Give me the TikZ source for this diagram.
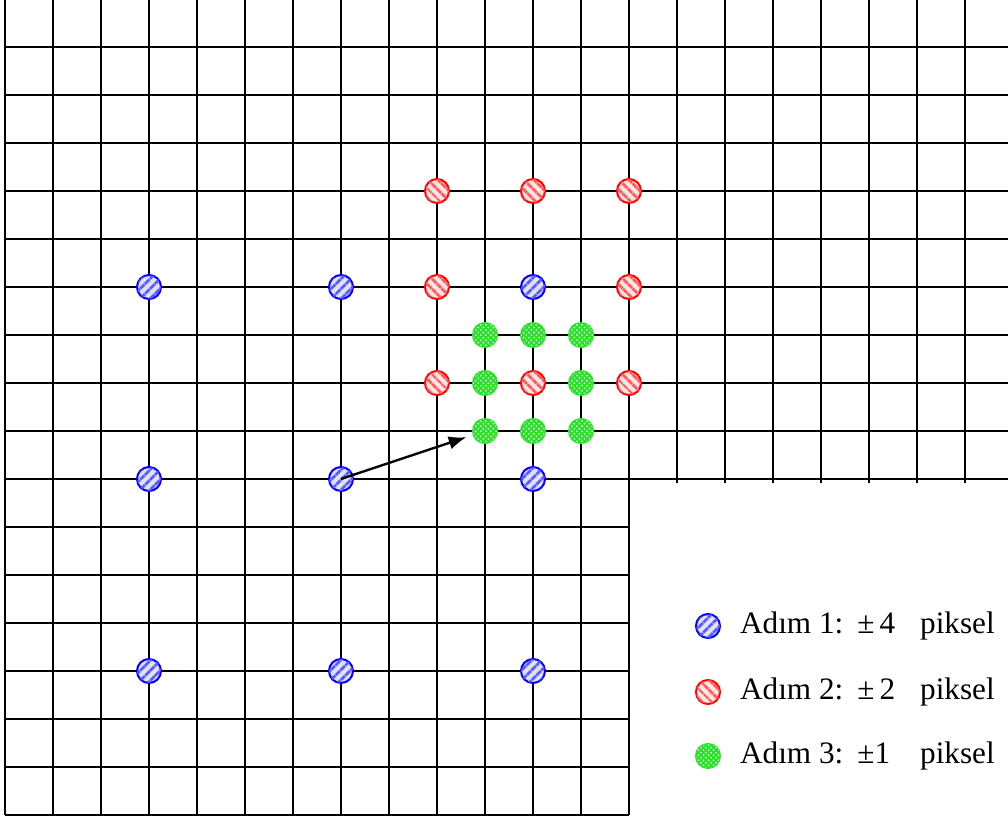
\documentclass[tikz,border=0pt]{standalone}
\usepackage{fontspec}
\setmainfont{Liberation Serif}
\usepackage{xcolor}
\usepackage{tikz}
\usetikzlibrary{positioning, arrows.meta, patterns, patterns.meta}
\definecolor{markgreen}{RGB}{40,225,40}

\begin{document}
\begin{tikzpicture}[
  gridline/.style={line width=1.25pt, black},
  searchpt/.style={circle, minimum size=0.5cm, inner sep=0pt, outer sep=0pt,
                   line width=1.2pt, fill=white},
  bluept/.style={searchpt, draw=blue, fill=blue!12,
                 postaction={pattern={Lines[angle=45, distance=4pt, line width=1.7pt]},
                             pattern color=blue!65}},
  redpt/.style={searchpt, draw=red, fill=red!10,
                postaction={pattern={Lines[angle=-45, distance=4pt, line width=1.7pt]},
                            pattern color=red!65}},
  greenpt/.style={searchpt, draw=markgreen, fill=markgreen,
                  postaction={pattern={Dots[distance=3pt, radius=0.6pt]}, pattern color=white!80!markgreen},
                  postaction={pattern={Dots[distance=3pt, radius=0.6pt, xshift=1.5pt, yshift=1.5pt]}, pattern color=white!80!markgreen}},
  legtext/.style={inner sep=0pt, outer sep=0pt, font=\fontsize{18.5}{22}\selectfont},
  motion/.style={line width=1.4pt, -{Latex[length=10.5pt, width=8pt]}}
]
  \useasboundingbox (-0.104,-0.125) rectangle (20.896,16.979);

  % Pixel grid - full width upper part, left block lower part
  \foreach \i in {0,...,13}{
    \draw[gridline] (\i,0) -- (\i,17.2);
  }
  \foreach \i in {14,...,20}{
    \draw[gridline] (\i,6.92) -- (\i,17.2);
  }
  \foreach \j in {0,...,6}{
    \draw[gridline] (0,\j) -- (13,\j);
  }
  \foreach \j in {7,...,17}{
    \draw[gridline] (0,\j) -- (21,\j);
  }

  % Step 1: +-4 pixels
  \foreach \i in {3,7,11}{
    \foreach \j in {3,7,11}{
      \node[bluept] (b\i\j) at (\i,\j) {};
    }
  }
  % Step 2: +-2 pixels around the best point
  \foreach \i/\j in {9/13, 11/13, 13/13, 9/11, 13/11, 9/9, 11/9, 13/9}{
    \node[redpt] (r\i\j) at (\i,\j) {};
  }
  % Step 3: +-1 pixel
  \foreach \i/\j in {10/10, 11/10, 12/10, 10/9, 12/9, 10/8, 11/8, 12/8}{
    \node[greenpt] (g\i\j) at (\i,\j) {};
  }

  % Motion vector
  \draw[motion, shorten >=4.5pt] (b77.center) -- (g108);

  % Legend
  \node[bluept] (leg1) at (14.646,3.9375) {};
  \node[redpt, below=0.875 of leg1] (leg2) {};
  \node[greenpt, below=0.833 of leg2] (leg3) {};
  \node[legtext, right=0.42 of leg1] (txt1)
    {\makebox[3.75cm][l]{Adım 1:\hspace{0.45em}±\,4}piksel};
  \node[legtext, right=0.42 of leg2] (txt2)
    {\makebox[3.75cm][l]{Adım 2:\hspace{0.45em}±\,2}piksel};
  \node[legtext, right=0.42 of leg3] (txt3)
    {\makebox[3.75cm][l]{Adım 3:\hspace{0.45em}±1}piksel};
\end{tikzpicture}
\end{document}
